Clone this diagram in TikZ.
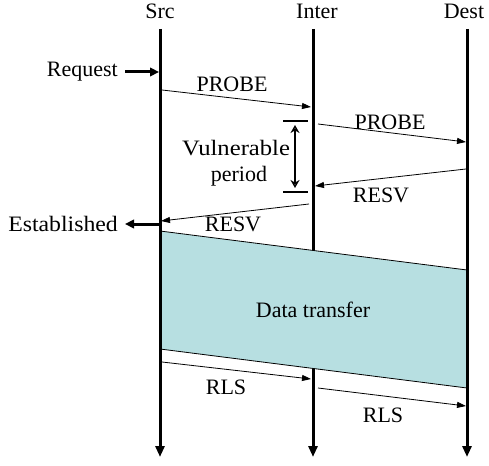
\documentclass[tikz,border=0pt]{standalone}
\usepackage{fontspec}
\setmainfont{Liberation Serif}
\usetikzlibrary{arrows.meta}
\definecolor{datafill}{RGB}{183,223,225}
\begin{document}
\begin{tikzpicture}[x=1pt,y=-1pt,
	lifeline/.style={line width=3pt,-{Triangle[length=11pt,width=9pt]}},
	msg/.style={line width=0.8pt,-{Triangle[length=9pt,width=6pt]}},
	outer/.style={line width=3pt,-{Triangle[length=9pt,width=8.5pt]}},
	lbl/.style={font=\fontsize{22}{24}\selectfont,inner sep=0pt}]
	\useasboundingbox (0,0) rectangle (489,465);

	% lifelines
	\node[lbl] (src) at (160,11) {Src};
	\node[lbl] (inter) at (317,11) {Inter};
	\node[lbl] (dest) at (464,11) {Dest};
	\coordinate (srctop) at (160,29);
	\coordinate (srcend) at (160,457);
	\coordinate (intertop) at (313,29);
	\coordinate (interend) at (313,457);
	\coordinate (desttop) at (467,29);
	\coordinate (destend) at (467,457);
	\draw[lifeline] (intertop) -- (interend);

	% data transfer
	\coordinate (dtl) at (160,231);
	\coordinate (dtr) at (467,270);
	\coordinate (dbl) at (160,349);
	\coordinate (dbr) at (467,388);
	\fill[datafill] (dtl) -- (dtr) -- (dbr) -- (dbl) -- cycle;
	\draw[line width=0.8pt] (dtl) -- (dtr);
	\draw[line width=0.8pt] (dbl) -- (dbr);
	\node[lbl] (data) at (313,310) {Data transfer};

	\draw[lifeline] (srctop) -- (srcend);
	\draw[lifeline] (desttop) -- (destend);

	% request
	\node[lbl,anchor=east] (request) at (118,72) {Request};
	\coordinate (reqin) at (159,72);
	\draw[outer] (request.east) ++(7,0) -- (reqin);

	% probe
	\coordinate (p1a) at (162,90);
	\coordinate (p1b) at (311,107);
	\draw[msg] (p1a) -- (p1b);
	\node[lbl] (probeA) at (232,84) {PROBE};
	\coordinate (p2a) at (318,124);
	\coordinate (p2b) at (466,142);
	\draw[msg] (p2a) -- (p2b);
	\node[lbl] (probeB) at (390,122) {PROBE};

	% vulnerable period
	\coordinate (vtl) at (283,121);
	\coordinate (vtr) at (308,121);
	\coordinate (vbl) at (283,192);
	\coordinate (vbr) at (308,192);
	\draw[line width=2pt] (vtl) -- (vtr);
	\draw[line width=2pt] (vbl) -- (vbr);
	\coordinate (vt) at (295,125);
	\coordinate (vb) at (295,188);
	\draw[line width=1.6pt,{Stealth[length=8pt,width=9pt,open]}-{Stealth[length=8pt,width=9pt,open]}] (vt) -- (vb);
	\node[lbl] (vuln) at (236,148) {\scalebox{1.12}[1]{Vulnerable}};
	\node[lbl] (period) at (239,176) {period};

	% resv
	\coordinate (r1a) at (466,169);
	\coordinate (r1b) at (315,186);
	\draw[msg] (r1a) -- (r1b);
	\node[lbl] (resvA) at (381,195) {RESV};
	\coordinate (r2a) at (309,204);
	\coordinate (r2b) at (161,221);
	\draw[msg] (r2a) -- (r2b);
	\node[lbl] (resvB) at (233,224) {RESV};

	% established
	\node[lbl,anchor=east] (estab) at (118,224) {\scalebox{1.08}[1]{Established}};
	\coordinate (estout) at (161,224);
	\draw[outer] (estout) -- ([xshift=7pt]estab.east);

	% release
	\coordinate (l1a) at (162,362);
	\coordinate (l1b) at (311,379);
	\draw[msg] (l1a) -- (l1b);
	\node[lbl] (rlsA) at (226,387) {RLS};
	\coordinate (l2a) at (318,388);
	\coordinate (l2b) at (466,406);
	\draw[msg] (l2a) -- (l2b);
	\node[lbl] (rlsB) at (383,415) {RLS};
\end{tikzpicture}
\end{document}
